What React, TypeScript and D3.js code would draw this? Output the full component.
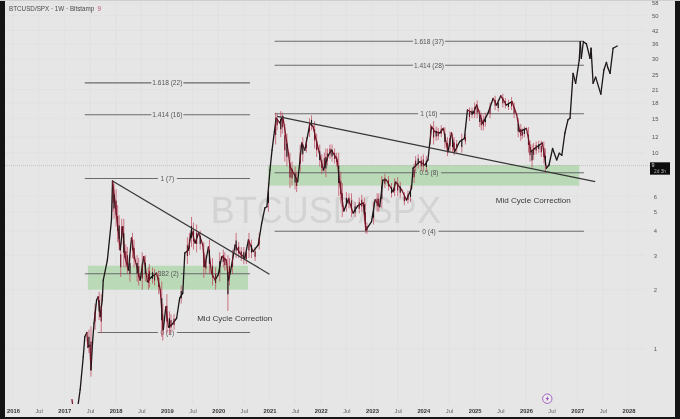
import React, { useEffect, useRef } from 'react';
import * as d3 from 'd3';

// weekly closes, dates as decimal years
const closeDates = [
  2017.15, 2017.17, 2017.22, 2017.27, 2017.31, 2017.37, 2017.4, 2017.44, 2017.46, 2017.5, 2017.52, 2017.55, 2017.58,
  2017.63, 2017.66, 2017.7, 2017.74, 2017.76, 2017.84, 2017.92, 2017.94, 2017.99, 2018.05, 2018.09, 2018.14, 2018.18,
  2018.25, 2018.31, 2018.38, 2018.48, 2018.55, 2018.62, 2018.7, 2018.8, 2018.87, 2018.93, 2018.98, 2019.03, 2019.09,
  2019.19, 2019.25, 2019.31, 2019.35, 2019.42, 2019.48, 2019.55, 2019.62, 2019.7, 2019.74, 2019.81, 2019.87, 2019.94,
  2020.0, 2020.07, 2020.16, 2020.2, 2020.24, 2020.33, 2020.42, 2020.52, 2020.59, 2020.68, 2020.78, 2020.85, 2020.91,
  2020.95, 2021.01, 2021.05, 2021.13, 2021.2, 2021.26, 2021.37, 2021.4, 2021.47, 2021.55, 2021.63, 2021.69, 2021.79,
  2021.85, 2021.95, 2022.05, 2022.15, 2022.21, 2022.32, 2022.37, 2022.45, 2022.54, 2022.63, 2022.72, 2022.83, 2022.88,
  2022.99, 2023.06, 2023.15, 2023.21, 2023.28, 2023.41, 2023.46, 2023.58, 2023.67, 2023.77, 2023.8, 2023.93, 2024.03,
  2024.09, 2024.16, 2024.22, 2024.32, 2024.39, 2024.48, 2024.55, 2024.61, 2024.71, 2024.8, 2024.86, 2024.97, 2025.04,
  2025.16, 2025.26, 2025.36, 2025.43, 2025.51, 2025.62, 2025.73, 2025.82, 2025.88, 2026.01, 2026.1, 2026.17, 2026.32,
  2026.4, 2026.45, 2026.52, 2026.6, 2026.65, 2026.7, 2026.76, 2026.82, 2026.86, 2026.92, 2026.97, 2027.04, 2027.06,
  2027.08, 2027.12, 2027.18, 2027.25, 2027.27, 2027.31, 2027.36, 2027.46, 2027.52, 2027.57, 2027.6, 2027.64, 2027.7,
  2027.78,
];
const closeValues = [
  0.55, 0.5, 0.4, 0.52, 0.62, 0.91, 1.15, 1.21, 1.02, 1.04, 0.78, 1.07, 1.35,
  1.77, 1.84, 1.46, 1.77, 2.24, 2.83, 4.54, 7.17, 5.54, 4.03, 3.19, 4.19, 2.95,
  2.52, 3.67, 2.83, 2.24, 2.95, 2.2, 2.32, 2.43, 2.0, 1.25, 1.64, 1.29, 1.32,
  1.43, 1.81, 1.92, 3.08, 3.19, 4.03, 3.46, 3.9, 3.38, 2.62, 3.31, 2.43, 2.24,
  2.38, 2.95, 2.83, 2.24, 2.47, 3.38, 3.08, 2.9, 3.59, 3.13, 3.38, 4.38, 5.22,
  5.3, 8.16, 10.3, 15, 14.2, 15.3, 9.93, 8.49, 7.88, 7.11, 11.2, 10.3, 14.1,
  13.6, 10.5, 8.16, 9.73, 10.3, 9.18, 7.0, 5.04, 5.8, 4.92, 5.35, 5.54, 4.03,
  4.45, 5.74, 5.3, 7.25, 7.25, 6.32, 7.09, 6.45, 5.74, 6.58, 8.33, 9.0, 8.65,
  9.18, 13.6, 12.8, 12.6, 13.3, 10.1, 12.6, 10.1, 11.4, 11.8, 16.5, 15.9, 17.5,
  14.1, 15.9, 18.9, 17.5, 19.5, 17.5, 18.2, 15.6, 12.8, 13.3, 10.1, 10.5, 11.2,
  8.33, 8.65, 10.5, 9.18, 9.93, 9.7, 12.6, 14.7, 15, 25.4, 22.6, 29.7, 36.8,
  30.3, 36.8, 35.9, 30.3, 34.1, 22.6, 24.3, 19.9, 26.4, 28.9, 27, 25.4, 34.1,
  35,
];

// candle wicks
const wickDates = [
  2017.48, 2017.52, 2017.6, 2017.68, 2017.72, 2017.95, 2017.97, 2018.01, 2018.04, 2018.07, 2018.1, 2018.12, 2018.16,
  2018.2, 2018.23, 2018.28, 2018.33, 2018.36, 2018.42, 2018.45, 2018.52, 2018.58, 2018.64, 2018.66, 2018.72, 2018.76,
  2018.84, 2018.9, 2018.92, 2019.0, 2019.05, 2019.08, 2019.14, 2019.28, 2019.4, 2019.44, 2019.48, 2019.52, 2019.58,
  2019.65, 2019.72, 2019.76, 2019.83, 2019.89, 2019.95, 2020.03, 2020.1, 2020.13, 2020.19, 2020.22, 2020.28, 2020.35,
  2020.4, 2020.45, 2020.5, 2020.55, 2020.6, 2020.65, 2020.72, 2020.8, 2020.98,
  2021.12, 2021.15, 2021.22, 2021.25, 2021.3, 2021.34, 2021.4, 2021.44, 2021.5, 2021.53, 2021.6, 2021.65, 2021.72,
  2021.78, 2021.82, 2021.88, 2021.92, 2021.98, 2022.02, 2022.07, 2022.1, 2022.13, 2022.18, 2022.22, 2022.27, 2022.31,
  2022.35, 2022.39, 2022.42, 2022.5, 2022.55, 2022.6, 2022.67, 2022.75, 2022.8, 2022.85, 2022.87, 2022.9, 2023.03,
  2023.1, 2023.13, 2023.19, 2023.25, 2023.32, 2023.38, 2023.44, 2023.5, 2023.55, 2023.63, 2023.7, 2023.75, 2023.82,
  2023.85, 2023.9, 2023.96, 2024.0, 2024.06, 2024.14, 2024.2, 2024.25, 2024.29, 2024.35, 2024.42, 2024.47, 2024.52,
  2024.57, 2024.6, 2024.65, 2024.75, 2024.82, 2024.9, 2024.95, 2025.0, 2025.05, 2025.1, 2025.13, 2025.17, 2025.21,
  2025.3, 2025.4, 2025.46, 2025.55, 2025.6, 2025.66, 2025.72, 2025.77, 2025.85, 2025.9, 2025.93, 2025.97, 2026.05,
  2026.08, 2026.12, 2026.15, 2026.2, 2026.25, 2026.3, 2026.35, 2026.38,
];
const wickHighs = [
  1.25, 1.3, 1.7, 1.95, 1.9, 7.1, 6.9, 6.5, 5.4, 4.8, 3.4, 4.6, 4.6,
  3.4, 3.3, 3.0, 3.9, 3.6, 3.0, 2.9, 3.1, 3.0, 2.6, 2.7, 2.6, 2.55,
  2.5, 2.2, 1.7, 1.9, 1.55, 1.5, 1.5, 2.1, 3.7, 3.9, 4.7, 4.4, 4.3,
  4.0, 3.5, 3.0, 3.6, 2.9, 2.6, 3.1, 3.2, 3.1, 3.0, 2.9, 3.2, 3.9,
  3.5, 3.3, 3.3, 3.3, 3.9, 3.6, 3.3, 3.9, 7,
  16, 15.8, 16.3, 16, 14, 12.5, 10, 9, 8.5, 8, 11, 12, 12,
  15, 15.5, 14.5, 12.5, 11, 9.8, 10, 10.5, 10.5, 11, 11, 10.5, 10,
  10, 8, 7, 6.3, 6.2, 6.2, 5.6, 5.9, 6.1, 5.9, 5.5, 4.4, 5.6,
  6.2, 6.2, 7.6, 7.8, 7.6, 7, 7.4, 7.5, 7.1, 6.3, 6.4, 6.8, 8.8,
  9.6, 9.8, 9.6, 9.8, 9.6, 14, 14.5, 13.6, 13.4, 13.8, 13.5, 12, 12.8,
  12.5, 12, 11.6, 12.5, 12.5, 17, 17, 18, 18.5, 16.5, 16, 15.5, 16,
  18, 19.5, 18.7, 20, 19, 18.6, 19.2, 18, 15, 14, 13.3, 13.6, 13.5,
  11.5, 11, 11.2, 11.4, 11.5, 11.5, 11.4, 10.5,
];
const wickLows = [
  0.95, 0.72, 1.25, 1.4, 1.2, 5.0, 4.6, 4.2, 3.5, 3.2, 2.32, 3.4, 2.6,
  2.6, 2.4, 2.2, 2.9, 2.6, 2.2, 2.1, 2.0, 2.2, 2.0, 2.05, 2.15, 2.1,
  1.9, 1.15, 1.1, 1.2, 1.18, 1.2, 1.25, 1.7, 2.7, 3.0, 3.3, 3.2, 3.1,
  3.2, 2.3, 2.4, 2.4, 2.1, 2.0, 2.2, 2.6, 2.5, 1.56, 2.1, 2.4, 2.9,
  2.9, 2.8, 2.7, 2.7, 2.9, 2.9, 2.8, 3.2, 5,
  11, 13, 12, 12.5, 9, 8.5, 6.6, 6.8, 6.5, 6.3, 8, 9, 10,
  12, 13, 10.5, 9.5, 8.5, 7.8, 8, 7.5, 8.6, 9.3, 9, 8.8, 8.5,
  6, 5.5, 4.7, 5, 5.2, 4.7, 4.7, 4.9, 5, 4.5, 3.9, 3.85, 4.3,
  5, 5, 5.2, 6.6, 6.4, 5.9, 6, 6, 5.9, 5.4, 5.5, 5.6, 7,
  8, 8.3, 8.1, 8, 8, 11, 11, 11.5, 11.6, 12, 10.5, 9.6, 10,
  10, 9.7, 10, 10, 11, 14.5, 15, 15, 15, 13.5, 13, 13, 13.6,
  15, 16.5, 16.2, 17, 16.8, 16.5, 16.5, 15, 12, 11.5, 11.8, 12, 10,
  9, 8.4, 9.2, 9.8, 10, 9.5, 8.8, 7.9,
];
const candleEnd = 2026.42;

// fib levels
const fibLabels = ['1.618 (22)', '1.414 (16)', '1 (7)', '.382 (2)', '0 (1)', '1.618 (37)', '1.414 (28)', '1 (16)', '0.5 (8)', '0 (4)'];
const fibValues = [22.7, 15.6, 7.38, 2.41, 1.21, 37, 27.9, 15.8, 7.9, 3.97];
const fibStarts = [2017.4, 2017.4, 2017.4, 2017.4, 2017.65, 2021.1, 2021.1, 2021.1, 2021.1, 2021.1];
const fibEnds = [2020.62, 2020.62, 2020.62, 2020.62, 2020.62, 2027.13, 2027.13, 2027.13, 2027.13, 2027.13];
const fibMids = [2019.01, 2019.01, 2019.01, 2019.01, 2019.01, 2024.11, 2024.11, 2024.11, 2024.11, 2024.11];

const zoneStarts = [2017.46, 2020.97];
const zoneEnds = [2020.58, 2027.04];
const zoneTops = [2.65, 8.65];
const zoneBottoms = [2.0, 6.79];

const trendDates = [[2017.94, 2021.0], [2021.15, 2027.35]];
const trendValues = [[7.17, 2.4], [15.3, 7.11]];

const noteLabel = 'Mid Cycle Correction';
const noteDates = [2019.59, 2025.41];
const noteValues = [1.39, 5.54];

const yearTicks = [2016, 2017, 2018, 2019, 2020, 2021, 2022, 2023, 2024, 2025, 2026, 2027, 2028];
const julTicks = [2016.5, 2017.5, 2018.5, 2019.5, 2020.5, 2021.5, 2022.5, 2023.5, 2024.5, 2025.5, 2026.5, 2027.5];
const priceTicks = [58, 50, 42, 36, 30, 25, 21, 18, 15, 12, 10, 6, 5, 4, 3, 2, 1];
const lastPrice = 9;

const W = 680;
const H = 419;
const SANS = '"Liberation Sans", Arial, sans-serif';

const App = () => {
  const ref = useRef<SVGSVGElement>(null);

  useEffect(() => {
    const root = d3.select(ref.current);
    root.selectAll('*').remove();

    const x = d3.scaleLinear().domain([2016, 2028]).range([13, 628.5]);
    const y = d3.scaleLog().domain([1, 58]).range([348.7, 3]);

    const defs = root.append('defs');
    defs.append('filter').attr('id', 'soft').append('feGaussianBlur').attr('stdDeviation', 0.35);
    defs.append('clipPath').attr('id', 'plot').append('rect').attr('x', 5).attr('y', 0).attr('width', 640).attr('height', 404);

    root.append('rect').attr('width', W).attr('height', H).attr('fill', '#e6e6e6');
    const svg = root.append('g').attr('filter', 'url(#soft)');

    // grid
    const grid = svg.append('g').attr('stroke', '#dfdfdf').attr('stroke-width', 0.7);
    [...yearTicks, ...julTicks].forEach((t) => {
      grid.append('line').attr('x1', x(t)).attr('x2', x(t)).attr('y1', 2).attr('y2', 404);
    });
    priceTicks.forEach((p) => {
      grid.append('line').attr('x1', 5).attr('x2', 645).attr('y1', y(p)).attr('y2', y(p));
    });

    // watermark
    svg.append('text').attr('x', x(2022.1)).attr('y', 222.5).attr('text-anchor', 'middle')
      .attr('font-family', SANS).attr('font-size', 36).attr('fill', '#d3d3d3').text('BTCUSD/SPX');

    // green zones
    zoneStarts.forEach((s, i) => {
      svg.append('rect').attr('x', x(s)).attr('width', x(zoneEnds[i]) - x(s))
        .attr('y', y(zoneTops[i])).attr('height', y(zoneBottoms[i]) - y(zoneTops[i]))
        .attr('fill', '#b9d9b7');
    });

    // last price line
    svg.append('line').attr('x1', 5).attr('x2', 650).attr('y1', y(lastPrice) + 4).attr('y2', y(lastPrice) + 4)
      .attr('stroke', '#b5b5b5').attr('stroke-width', 0.7).attr('stroke-dasharray', '1 1');

    // fib lines, label sits in a gap in the middle
    fibLabels.forEach((label, i) => {
      const mid = x(fibMids[i]);
      const gap = label.length * 1.3 + 3;
      const py = y(fibValues[i]);
      const g = svg.append('g').attr('stroke', '#6a6a6a').attr('stroke-width', 1.05);
      g.append('line').attr('x1', x(fibStarts[i])).attr('x2', mid - gap).attr('y1', py).attr('y2', py);
      g.append('line').attr('x1', mid + gap).attr('x2', x(fibEnds[i])).attr('y1', py).attr('y2', py);
      svg.append('text').attr('x', mid).attr('y', py + 2.4).attr('text-anchor', 'middle')
        .attr('font-family', SANS).attr('font-size', 6.6).attr('fill', '#555').text(label);
    });

    // price
    const price = svg.append('g').attr('clip-path', 'url(#plot)');
    wickDates.forEach((d, i) => {
      price.append('line').attr('x1', x(d)).attr('x2', x(d)).attr('y1', y(wickHighs[i])).attr('y2', y(wickLows[i]))
        .attr('stroke', '#c2455c').attr('stroke-width', 0.9).attr('opacity', 0.8);
    });
    closeDates.slice(1).forEach((d, i) => {
      const falling = closeValues[i + 1] < closeValues[i];
      const red = falling && d < candleEnd;
      price.append('path').attr('fill', 'none').attr('stroke-linecap', 'round')
        .attr('stroke', red ? '#7d1a2c' : '#1b1517').attr('stroke-width', 1.3)
        .attr('d', `M${x(closeDates[i])},${y(closeValues[i])}L${x(d)},${y(closeValues[i + 1])}`);
    });
    // dark candle bodies, middle of each wick
    wickDates.forEach((d, i) => {
      const top = y(wickHighs[i]);
      const bottom = y(wickLows[i]);
      const span = bottom - top;
      price.append('line').attr('x1', x(d)).attr('x2', x(d))
        .attr('y1', top + span * 0.3).attr('y2', bottom - span * 0.3)
        .attr('stroke', i % 3 === 0 ? '#1b1517' : '#6d1526').attr('stroke-width', 1.1);
    });

    // trend lines
    trendDates.forEach((d, i) => {
      svg.append('line').attr('x1', x(d[0])).attr('x2', x(d[1]))
        .attr('y1', y(trendValues[i][0])).attr('y2', y(trendValues[i][1]))
        .attr('stroke', '#363636').attr('stroke-width', 1.25);
    });

    // notes
    noteDates.forEach((d, i) => {
      svg.append('text').attr('x', x(d)).attr('y', y(noteValues[i])).attr('font-family', SANS)
        .attr('font-size', 8.1).attr('fill', '#3a3a3a').text(noteLabel);
    });

    // axes
    const axisX = svg.append('g').attr('transform', 'translate(0,413)')
      .call(d3.axisBottom(x).tickValues([...yearTicks, ...julTicks]).tickSize(0).tickPadding(0)
        .tickFormat((t) => (Number.isInteger(+t) ? String(t) : 'Jul')));
    axisX.select('.domain').remove();
    axisX.selectAll<SVGTextElement, number>('text')
      .attr('y', 0).attr('dy', 0)
      .attr('font-family', SANS).attr('font-size', 5.8)
      .attr('font-weight', (t) => (Number.isInteger(t) ? 700 : 400))
      .attr('fill', (t) => (Number.isInteger(t) ? '#333' : '#666'));

    const axisY = svg.append('g').attr('transform', 'translate(655.3,0)')
      .call(d3.axisRight(y).tickValues(priceTicks).tickSize(0).tickPadding(0).tickFormat((t) => String(t)));
    axisY.select('.domain').remove();
    axisY.selectAll('text').attr('text-anchor', 'middle')
      .attr('font-family', SANS).attr('font-size', 5.8).attr('fill', '#555');

    // last price tag
    const tag = svg.append('g').attr('transform', 'translate(650,162.3)');
    tag.append('rect').attr('width', 20).attr('height', 12.4).attr('fill', '#0d0d0d');
    tag.append('text').attr('x', 1.5).attr('y', 5.2).attr('font-family', SANS).attr('font-size', 5.4).attr('fill', '#ddd').text(String(lastPrice));
    tag.append('text').attr('x', 4).attr('y', 10.8).attr('font-family', SANS).attr('font-size', 4.8).attr('fill', '#aaa').text('2d 3h');

    // header
    const header = svg.append('text').attr('x', 9).attr('y', 11).attr('font-family', SANS).attr('font-size', 6.3).attr('fill', '#4a4a4a');
    header.append('tspan').text('BTCUSD/SPX · 1W · Bitstamp');
    header.append('tspan').attr('dx', 3).attr('fill', '#c0566c').text(String(lastPrice));

    // bolt badge
    const badge = svg.append('g').attr('transform', 'translate(547.3,398.7)');
    badge.append('circle').attr('r', 4.7).attr('fill', '#ececec').attr('stroke', '#9a52bd').attr('stroke-width', 0.9);
    badge.append('path').attr('d', 'M0.8,-3L-1.8,0.5H-0.2L-0.8,3L1.8,-0.6H0.2Z').attr('fill', '#9a52bd');

    // screen edges
    root.append('rect').attr('width', 5).attr('height', H).attr('fill', '#141414');
    root.append('rect').attr('x', 675).attr('width', 5).attr('height', H).attr('fill', '#141414');
    root.append('rect').attr('y', 417).attr('width', W).attr('height', 2).attr('fill', '#141414');
    root.append('rect').attr('width', W).attr('height', 1).attr('fill', '#cfcfcf');
  }, []);

  return <svg ref={ref} width={W} height={H} style={{ position: 'absolute', left: 0, top: 0 }} />;
};

export default App;
